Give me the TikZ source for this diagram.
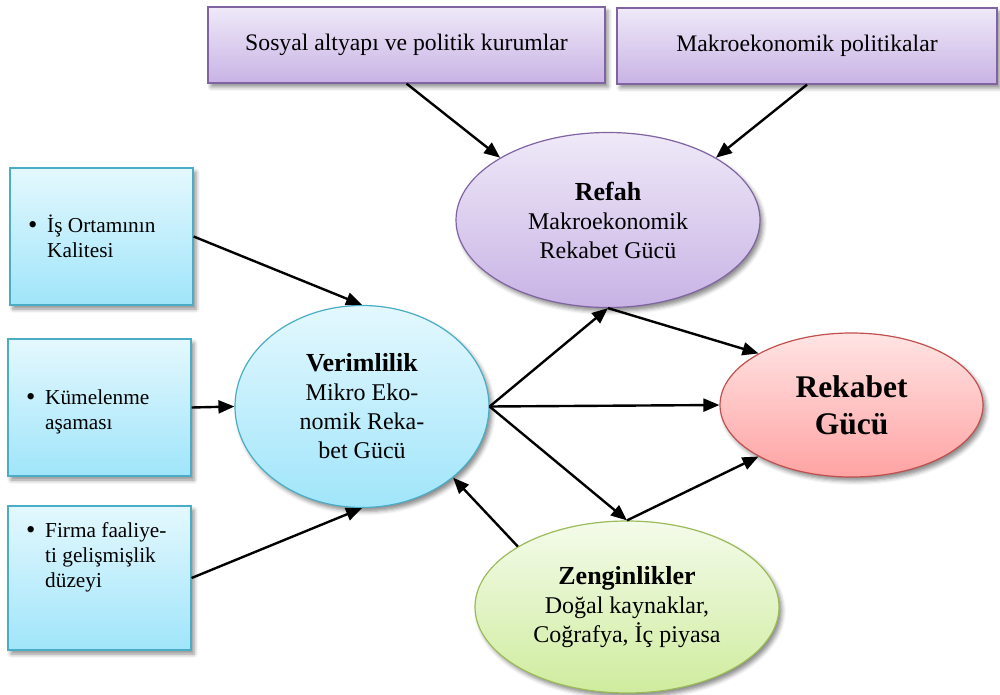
\documentclass[tikz,border=0pt]{standalone}
\usepackage{fontspec}
\setmainfont{Liberation Serif}
\usetikzlibrary{shapes.geometric,arrows.meta,shadows.blur}

\definecolor{pborder}{HTML}{8064A2}
\definecolor{ptop}{HTML}{EFE9F8}
\definecolor{pbot}{HTML}{C8B3E5}
\definecolor{bborder}{HTML}{4BACC6}
\definecolor{btop}{HTML}{E4F8FE}
\definecolor{bbot}{HTML}{A0E5FA}
\definecolor{rborder}{HTML}{C0504D}
\definecolor{rtop}{HTML}{FFE4E4}
\definecolor{rbot}{HTML}{FFA3A3}
\definecolor{gborder}{HTML}{9BBB59}
\definecolor{gtop}{HTML}{F4FBEA}
\definecolor{gbot}{HTML}{CFEC9E}

\tikzset{
  base/.style={draw, line width=1.2pt, inner sep=0pt,
    blur shadow={shadow xshift=3pt, shadow yshift=-4pt,
                 shadow blur radius=4pt, shadow opacity=45}},
  purplebox/.style={base, rectangle, draw=pborder, top color=ptop, bottom color=pbot,
    font=\fontsize{23.7}{28}\selectfont},
  bluebox/.style={base, rectangle, draw=bborder, top color=btop, bottom color=bbot},
  oval/.style={base, ellipse, align=center, font=\fontsize{24}{29}\selectfont},
  bullettext/.style={anchor=base west, inner sep=0pt, font=\fontsize{21.3}{25}\selectfont},
  link/.style={line width=2.4pt, -{Triangle[length=16pt,width=13pt]}},
}
\newcommand{\heading}[1]{\textbf{\fontsize{26}{29}\selectfont #1}}
\newcommand{\itemdot}{\makebox[19pt][l]{\raisebox{-1.5pt}{\scalebox{1.25}{\textbullet}}}}

\begin{document}
\begin{tikzpicture}[x=1pt,y=-1pt]
\useasboundingbox (0,0) rectangle (1000,695);

% top boxes
\node[purplebox, minimum width=397pt, minimum height=76pt] (s1) at (406.5,45)
  {Sosyal altyapı ve politik kurumlar};
\node[purplebox, minimum width=380pt, minimum height=76pt] (s2) at (807,46)
  {Makroekonomik politikalar};

% left boxes
\node[bluebox, minimum width=183pt, minimum height=137pt] (b1) at (101.5,236.5) {};
\node[bluebox, minimum width=183pt, minimum height=137pt] (b2) at (99.5,407.5) {};
\node[bluebox, minimum width=183pt, minimum height=144pt] (b3) at (99.5,578) {};

\node[bullettext] (t1) at (28,232)
  {\itemdot\parbox[t]{140pt}{İş Ortamının\\Kalitesi}};
\node[bullettext] (t2) at (26,404)
  {\itemdot\parbox[t]{140pt}{Kümelenme\\aşaması}};
\node[bullettext] (t3) at (26,537)
  {\itemdot\parbox[t]{140pt}{Firma faaliye-\\ti gelişmişlik\\düzeyi}};

% ellipses
\node[oval, draw=pborder, top color=ptop, bottom color=pbot,
      minimum width=304pt, minimum height=175pt] (refah) at (608,220)
  {\heading{Refah}\\Makroekonomik\\Rekabet Gücü};
\node[oval, draw=bborder, top color=btop, bottom color=bbot,
      minimum width=254pt, minimum height=202pt] (verim) at (362,406.5)
  {\heading{Verimlilik}\\Mikro Eko-\\nomik Reka-\\bet Gücü};
\node[oval, draw=rborder, top color=rtop, bottom color=rbot,
      minimum width=263pt, minimum height=144pt,
      font=\bfseries\fontsize{31.5}{37}\selectfont] (rek) at (851.5,405)
  {Rekabet\\Gücü};
\node[oval, draw=gborder, top color=gtop, bottom color=gbot,
      minimum width=304pt, minimum height=172pt] (zeng) at (627,607)
  {\heading{Zenginlikler}\\Doğal kaynaklar,\\Coğrafya, İç piyasa};

% connectors
\draw[link] (s1.south) -- (refah.150);
\draw[link] (s2.south) -- (refah.30);
\draw[link] (b1.east) -- (verim.north);
\draw[link] (b2.east) -- (verim.west);
\draw[link] (b3.east) -- (verim.south);
\draw[link] (verim.east) -- (refah.south);
\draw[link] (verim.east) -- (rek.west);
\draw[link] (verim.east) -- (zeng.north);
\draw[link] (refah.south) -- (rek.151);
\draw[link] (zeng.north) -- (rek.209);
\draw[link] (zeng.151) -- (verim.-38);
\end{tikzpicture}
\end{document}
